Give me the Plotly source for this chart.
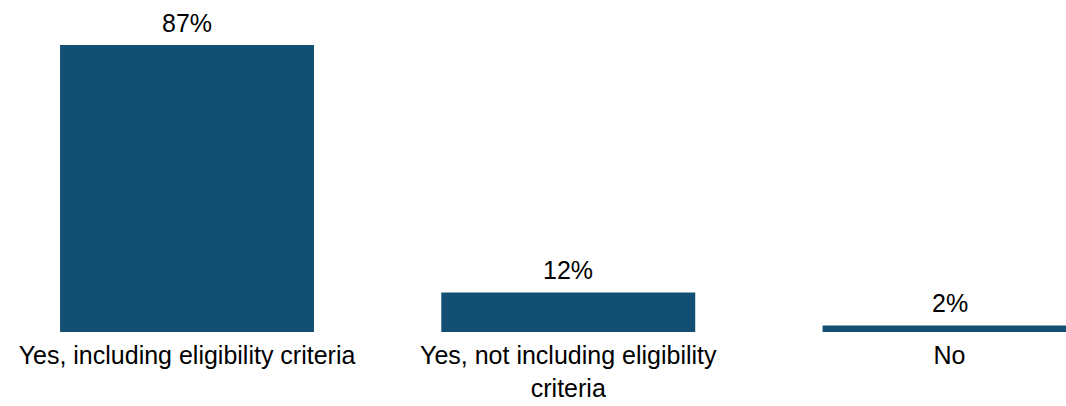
import plotly.graph_objects as go

categories = ["Yes, including eligibility criteria",
              "Yes, not including eligibility<br>criteria",
              "No"]
values = [87, 12, 2]
labels = ["87%", "12%", "2%"]

FONT = "Liberation Sans, Arial"

fig = go.Figure(go.Bar(
    x=categories, y=values,
    cliponaxis=True,
    marker=dict(color="#124F73", line=dict(width=0)),
    hoverinfo="skip",
))
for c, v, t in zip(categories, values, labels):
    fig.add_annotation(x=c, y=v, text=t, showarrow=False,
                       yanchor="bottom", yshift=6,
                       font=dict(size=25, color="black", family=FONT))

fig.update_layout(
    width=1066, height=406,
    margin=dict(l=0, r=0, t=2, b=74, autoexpand=False),
    paper_bgcolor="white", plot_bgcolor="white",
    bargap=0.334, showlegend=False,
    font=dict(family=FONT, size=25, color="black"),
)
fig.update_xaxes(range=[-0.4905, 2.3055], showline=False, showgrid=False,
                 ticks="", ticklabelstandoff=6, automargin=False,
                 tickfont=dict(size=25, color="black", family=FONT))
fig.update_yaxes(range=[0, 100], visible=False, showgrid=False, automargin=False)
fig.write_html("out.html", config={"displayModeBar": False},
               post_script="document.body.style.margin='0';document.body.style.overflow='hidden';")
